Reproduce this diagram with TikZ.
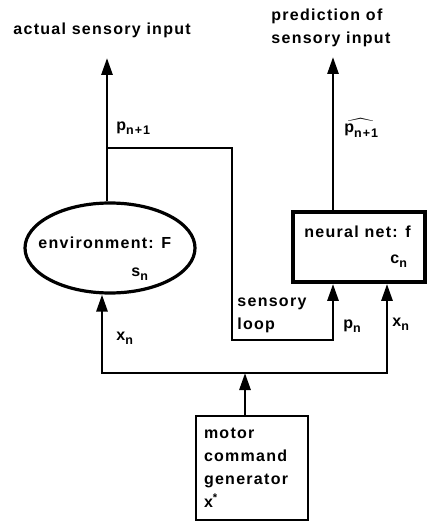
\documentclass[tikz,border=0pt]{standalone}
\usepackage{fix-cm}
\usepackage{amsmath}
\usepackage{fontspec}
\setmainfont{Liberation Sans}[LetterSpace=8]
\usetikzlibrary{arrows.meta, positioning, shapes.geometric, calc}
\newcommand{\subtxt}[2]{#1\raisebox{-0.5ex}{\fontsize{12.5}{12.5}\selectfont #2}}

\begin{document}
\begin{tikzpicture}[x=1pt, y=-1pt, >={Triangle[length=17pt, width=11pt]}, line width=2.8pt,
  font=\fontsize{16}{23}\selectfont\bfseries,
  lbl/.style={inner sep=0pt, anchor=west, align=left},
  blk/.style={draw, rectangle, inner sep=0pt}]
  \useasboundingbox (0,0) rectangle (432,521);

  % Titles
  \node[lbl] (actual) at (12,30) {actual sensory input};
  \node[lbl] (pred) at (270,28) {prediction of\\sensory input};

  % Environment
  \node[draw, ellipse, minimum width=170pt, minimum height=90pt, line width=3.2pt] (env) at (110,248) {};
  \node[lbl] (envname) at (37,243) {environment: F};
  \node[lbl] (envstate) at (130,274) {\subtxt{s}{n}};

  % Neural net
  \node[blk, minimum width=132pt, minimum height=70pt, line width=3.8pt] (nn) at (359,247) {};
  \node[lbl] (nnname) at (303,232) {neural net: f};
  \node[lbl] (nnstate) at (389,261) {\subtxt{c}{n}};

  % Motor command generator
  \node[blk, minimum width=112pt, minimum height=104pt, text width=96pt, inner xsep=8pt, align=left] (motor) at (252,468)
    {motor\\command\\generator\\x\textsuperscript{*}};

  % Connector points
  \coordinate (actualtip) at (107,58);
  \coordinate (predtip) at (333,57);
  \coordinate (tap) at (107,148);
  \coordinate (loopbottom) at (232,340);
  \coordinate (busL) at (102,373);
  \coordinate (busR) at (387,373);

  % Sensory outputs
  \draw[->] (actualtip |- env.north) -- (actualtip);
  \draw[->] (predtip |- nn.north) -- (predtip);
  \node[lbl] (pnext) at (115,128) {\subtxt{p}{n+1}};
  \node[lbl] (pnexthat) at (343,128) {$\widehat{\mbox{\subtxt{p}{n+1}}}$};

  % Sensory loop
  \draw[->] (tap) -| (loopbottom) -| (predtip |- nn.south);
  \node[lbl] (looplbl) at (236,315) {sensory\\loop};
  \node[lbl] (pnow) at (342,326) {\subtxt{p}{n}};

  % Motor bus
  \draw[<->] (busL |- env.south) -- (busL) -- (busR) -- (busR |- nn.south);
  \draw[->] ([xshift=-7pt]motor.north) -- ([xshift=-7pt]motor.north |- busL);
  \node[lbl] (xleft) at (115,338) {\subtxt{x}{n}};
  \node[lbl] (xright) at (391,324) {\subtxt{x}{n}};
\end{tikzpicture}
\end{document}
